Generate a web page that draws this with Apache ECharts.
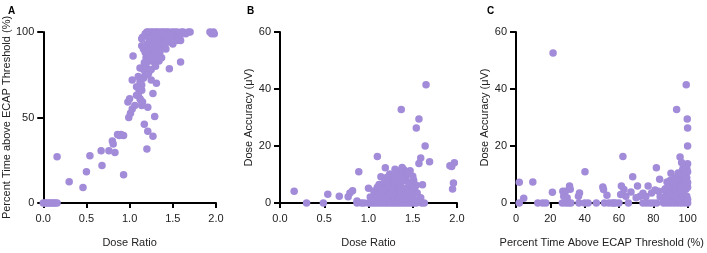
<!DOCTYPE html>
<html>
<head>
<meta charset="utf-8">
<script src="https://cdn.jsdelivr.net/npm/echarts@6/dist/echarts.min.js"></script>
<style>
html,body{margin:0;padding:0;background:#fff;}
#chart{width:707px;height:253px;}
</style>
</head>
<body>
<div id="chart"></div>
<script>
// Panel letters and axis titles
const panelLetters = ['A', 'B', 'C'];
const xNames = ['Dose Ratio', 'Dose Ratio', 'Percent Time Above ECAP Threshold (%)'];
const yNames = ['Percent Time above ECAP Threshold (%)', 'Dose Accuracy (μV)', 'Dose Accuracy (μV)'];

// Panel A: [dose ratio, percent time above ECAP threshold]
const panelA = [
  [0,0],[0.02,0],[0.04,0],[0.06,0],[0.08,0],[0.1,0],[0.12,0],[0.14,0],[0.16,0],
  [0.16,27],[0.30,12.5],[0.46,9],[0.50,18.3],[0.54,27.6],[0.67,30.6],[0.68,22],[0.76,30.6],
  [0.80,36.3],[0.81,34.5],[0.83,29.5],[0.86,40],[0.88,39.5],[0.90,40],[0.93,39.5],[0.93,16.5],
  [0.98,59],[0.99,50],[1.0,61],[1.01,52.5],[1.03,55],[1.06,57],[1.03,72],[1.04,86],[1.08,63],
  [1.1,68],[1.12,61],[1.14,57],[1.17,46],[1.21,56],[1.21,42],[1.2,31.6],[1.27,39],[1.27,64],
  [1.29,50.6],[1.31,70],[1.34,83],[1.46,78.5],[1.59,82.5],[1.59,95],[1.7,100],
  [1.93,100],[1.95,99],[1.97,100],[1.98,99],
  [1.15,97],[1.18,99],[1.2,100],[1.22,100],[1.24,99],[1.25,100],[1.27,100],[1.28,98],[1.3,100],
  [1.32,100],[1.33,99],[1.35,100],[1.36,98],[1.38,100],[1.4,100],[1.41,99],[1.43,100],[1.45,100],
  [1.47,99],[1.49,100],[1.5,98],[1.52,100],[1.55,100],[1.57,99],[1.6,100],[1.62,100],[1.65,99],
  [1.68,100],[1.3,97],[1.34,96],[1.39,97],[1.44,96],[1.48,97],[1.53,97],[1.42,98],[1.26,97],
  [1.23,96],[1.37,99],[1.46,98],[1.58,97],
  [1.14,96],[1.14,92],[1.16,90],[1.18,88],[1.19,85],[1.2,93],[1.22,91],[1.24,94],[1.25,89],
  [1.27,92],[1.28,87],[1.3,94],[1.31,90],[1.33,92],[1.35,88],[1.36,94],[1.38,91],[1.4,93],
  [1.42,90],[1.44,94],[1.21,86],[1.23,83],[1.26,85],[1.29,82],[1.32,86],[1.37,85],[1.17,82],
  [1.12,79],[1.16,78],[1.19,80],[1.22,76],[1.25,78],[1.3,80],[1.5,93],[1.55,95],
  [1.1,74],[1.12,71],[1.14,69],[1.16,73],[1.18,75],[1.21,75],[1.25,72],[1.08,68],[1.11,66],
  [1.14,66],[1.1,63],[1.13,60],[1.15,59]
];

// Panel B: [dose ratio, dose accuracy (μV)]
const panelB = [
  [0.16,4.1],[0.30,0],[0.49,0],[0.54,3.1],[0.67,2.4],[0.77,2.2],[0.79,3.5],[0.82,4.3],[0.87,0.7],
  [0.87,0],[0.89,11],[0.92,0],[0.95,0],[1.0,5.2],[1.1,16.3],[1.14,9.2],[1.19,12.4],[1.37,32.8],
  [1.40,11.7],[1.65,41.5],[1.57,29.5],[1.54,26.3],[1.64,20],[1.59,15.8],[1.57,13.9],[1.69,14.5],
  [1.92,13.1],[1.94,12.8],[1.97,14.1],[1.96,7],[1.95,4.9],[1.61,6.4],[1.59,1.8],[1.6,0],[1.63,0],
  [1.0,0],[1.03,0],[1.06,0],[1.09,0],[1.12,0],[1.15,0],[1.18,0],[1.21,0],[1.24,0],[1.27,0],
  [1.3,0],[1.33,0],[1.36,0],[1.39,0],[1.42,0],[1.45,0],[1.48,0],[1.51,0],[1.54,0],
  [1.02,2.1],[1.05,1.2],[1.08,2.8],[1.11,1.5],[1.14,2.5],[1.17,1.0],[1.2,3.0],[1.23,1.8],
  [1.26,2.6],[1.29,1.1],[1.32,2.9],[1.35,1.6],[1.38,2.2],[1.41,1.3],[1.44,2.7],[1.47,1.9],
  [1.5,2.4],[1.53,1.0],
  [1.06,4.2],[1.1,5.5],[1.13,3.8],[1.16,4.9],[1.19,5.8],[1.22,4.1],[1.25,5.2],[1.28,3.6],
  [1.31,4.7],[1.34,5.9],[1.37,4.4],[1.4,5.1],[1.43,3.9],[1.46,5.6],[1.49,4.3],[1.52,5.0],[1.55,3.5],
  [1.12,6.5],[1.18,7.2],[1.23,6.8],[1.27,8.1],[1.3,7.0],[1.33,8.6],[1.36,6.4],[1.39,7.7],
  [1.42,8.9],[1.45,7.3],[1.48,6.6],[1.51,8.0],[1.54,6.2],
  [1.24,10.2],[1.29,9.5],[1.33,11.2],[1.35,10.0],[1.38,12.5],[1.41,9.8],[1.44,10.6],[1.47,11.3],
  [1.5,9.4],[1.3,11.8],[1.21,9.0]
];

// Panel C: [percent time above ECAP threshold, dose accuracy (μV)]
const panelC = [
  [1.9,7.3],[1.9,0],[4.5,1.7],[9.8,7.4],[12.7,0],[15.5,0],[17.4,0],[21.6,52.6],[21.2,3.8],
  [27.3,4.1],[28.8,4.1],[27.8,2.4],[27,0],[29,0],[31.2,6.0],[30.7,0],[32,0],[29.8,1.8],[31.6,4.8],
  [36.4,2.4],[37,3.5],[40.2,11],[36.7,0],[40,0],[42,0],[46.8,0],[50.6,5.6],[51,4.7],[53,2.7],
  [51.5,0],[54,0],[56,0],[57,0],[58,0],[60,0],[61,3],[61.4,6],[62.3,16.3],[62.9,4.7],[64,2.4],
  [65.5,0],[67,3.9],[68,9.2],[70,1.8],[70.8,6],[72.3,2.4],[74,0],[74,3.4],[75.7,2.3],[77,6],
  [76,0],[78,0],[79,3.5],[81,4.6],[80,0],[81.8,12.4],[82,0],[83.7,8.3],[83,4.1],[84,2.2],[86,0],
  [88,0],[90,0],[92,0],[94,0],[96,0],[98,0],[100,0],
  [87,5],[88,3],[89,6.5],[90.3,10.4],[93.6,32.8],[95.6,16.1],[99.2,41.5],[99.8,29.5],[100,26.3],[100,20],
  [86,1.5],[87.5,2.5],[89,1.2],[90.5,2.8],[92,1.8],[93.5,2.2],[95,1.0],[96.5,2.9],[98,1.6],
  [99.5,2.4],[88,3.4],[91,3.1],[94,3.6],[97,3.3],[100,1.2],
  [86.5,4.5],[88.5,5.2],[90,4.0],[91.5,5.8],[93,4.6],[94.5,5.5],[96,4.2],[97.5,5.9],[99,4.8],
  [100,5.5],[89.5,6.2],[92.5,6.5],[95.5,6.1],[98.5,6.7],
  [88,7.4],[90,8.0],[91.5,7.2],[93,8.8],[94,7.6],[95,9.3],[96.5,8.1],[97.5,9.6],[98.5,7.8],
  [99.5,8.9],[100,7.2],[96,10.2],[99,10.8],[97,11.5],[94.5,10.5],
  [98,13.2],[99.5,12.2],[100,13.8],[97.5,12.6],[96.5,14.2],[98.5,11.6],[100,11]
];

const FONT = 'Liberation Sans, Arial, sans-serif';
const TXT = '#222';
const DOT = '#a28bd8';

const grids = [
  {left: 40, top: 32, width: 176, height: 175},
  {left: 280, top: 32, width: 177, height: 175},
  {left: 516, top: 32, width: 176, height: 175}
];

function xAxisCfg(i, max, interval, dec) {
  return {
    gridIndex: i, type: 'value', min: 0, max: max, interval: interval,
    name: xNames[i], nameLocation: 'middle', nameGap: 34,
    nameTextStyle: {fontFamily: FONT, fontSize: 11, color: TXT},
    axisLine: {show: true, onZero: false, lineStyle: {color: '#000', width: 2}},
    axisTick: {show: true, length: 5, lineStyle: {color: '#000', width: 2}},
    axisLabel: {fontFamily: FONT, fontSize: 11, color: TXT, margin: 10,
      formatter: v => v.toFixed(dec)},
    splitLine: {show: false}
  };
}
function yAxisCfg(i, max, interval, gap) {
  return {
    gridIndex: i, type: 'value', min: 0, max: max, interval: interval,
    name: yNames[i], nameLocation: 'middle', nameGap: gap,
    nameTextStyle: {fontFamily: FONT, fontSize: 11, color: TXT},
    axisLine: {show: true, onZero: false, lineStyle: {color: '#000', width: 2}},
    axisTick: {show: true, length: 6, lineStyle: {color: '#000', width: 2}},
    axisLabel: {fontFamily: FONT, fontSize: 11, color: TXT, margin: 9},
    splitLine: {show: false}
  };
}

const chart = echarts.init(document.getElementById('chart'), null, {renderer: 'canvas'});
chart.setOption({
  animation: false,
  backgroundColor: '#fff',
  title: panelLetters.map((t, i) => ({
    text: t, left: [3, 242, 482][i], top: 1,
    textStyle: {fontFamily: FONT, fontSize: 10, fontWeight: 'bold', color: '#000'}
  })),
  grid: grids,
  xAxis: [xAxisCfg(0, 2, 0.5, 1), xAxisCfg(1, 2, 0.5, 1), xAxisCfg(2, 100, 20, 0)],
  yAxis: [yAxisCfg(0, 100, 50, 28), yAxisCfg(1, 60, 20, 25), yAxisCfg(2, 60, 20, 23)],
  series: [panelA, panelB, panelC].map((d, i) => ({
    type: 'scatter', xAxisIndex: i, yAxisIndex: i, data: d,
    symbolSize: 7.5, clip: false,
    itemStyle: {color: DOT, opacity: 1}
  }))
});
</script>
</body>
</html>
